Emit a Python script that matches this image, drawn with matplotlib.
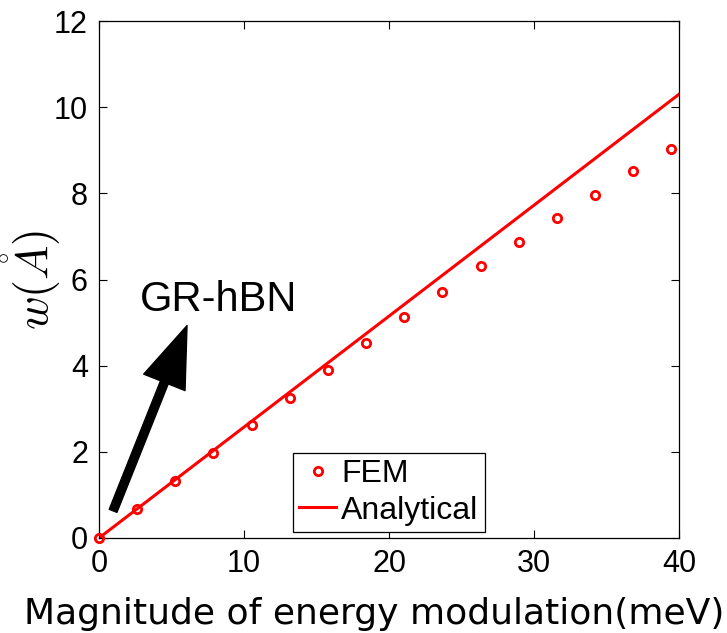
import numpy as np
import matplotlib.pyplot as plt

# FEM results
fem_x = [0.0, 2.63, 5.26, 7.89, 10.53, 13.16, 15.79, 18.42, 21.05, 23.68,
         26.32, 28.95, 31.58, 34.21, 36.84, 39.47]
fem_w = [0.0, 0.67, 1.33, 1.98, 2.63, 3.26, 3.90, 4.52, 5.13, 5.72,
         6.31, 6.88, 7.43, 7.97, 8.51, 9.03]

# analytical (linear) model
ana_x = [0.0, 40.0]
ana_w = [0.0, 10.3]

xticks = [0, 10, 20, 30, 40]
yticks = [0, 2, 4, 6, 8, 10, 12]

RED = "#ff0000"
SANS = ["Liberation Sans", "DejaVu Sans"]
plt.rcParams["mathtext.fontset"] = "cm"


def main():
    fig = plt.figure(figsize=(7.27, 6.33), dpi=100, facecolor="w")
    ax = fig.add_axes([0.1362, 0.1501, 0.7978, 0.8167])

    ax.plot(fem_x, fem_w, "o", mfc="none", mec=RED, mew=2.0, ms=6.0,
            label="FEM", clip_on=False, zorder=3)
    ax.plot(ana_x, ana_w, "-", color=RED, lw=2.2, label="Analytical")

    ax.set_xlim(0, 40)
    ax.set_ylim(0, 12)
    ax.set_xticks(xticks)
    ax.set_yticks(yticks)
    ax.tick_params(direction="in", length=6, width=0.8, top=True, right=True,
                   labelsize=22, pad=8)
    for lab in ax.get_xticklabels() + ax.get_yticklabels():
        lab.set_family(SANS)
    for sp in ax.spines.values():
        sp.set_linewidth(0.9)
        sp.set_color("black")

    ax.set_xlabel("Magnitude of energy modulation(meV)", fontsize=26,
                  family="DejaVu Sans")
    ax.xaxis.set_label_coords(0.475, -0.114)
    ax.set_ylabel(r"$w(\mathring{A})$", fontsize=33)
    ax.yaxis.set_label_coords(-0.062, 0.50)

    ax.annotate("", xy=(6.07, 4.93), xytext=(0.97, 0.63),
                arrowprops=dict(facecolor="black", edgecolor="black",
                                width=6, headwidth=32, headlength=44))
    ax.text(2.82, 5.26, "GR-hBN", fontsize=30, family=SANS)

    leg = ax.legend(loc="lower left", bbox_to_anchor=(0.334, 0.0116),
                    borderaxespad=0, prop={"family": SANS, "size": 23},
                    fancybox=False, framealpha=1, edgecolor="black",
                    handlelength=1.16, handletextpad=0.16, borderpad=0.2,
                    labelspacing=0.2)
    leg.get_frame().set_linewidth(0.9)

    plt.savefig("out.png", dpi=100)


if __name__ == "__main__":
    main()
